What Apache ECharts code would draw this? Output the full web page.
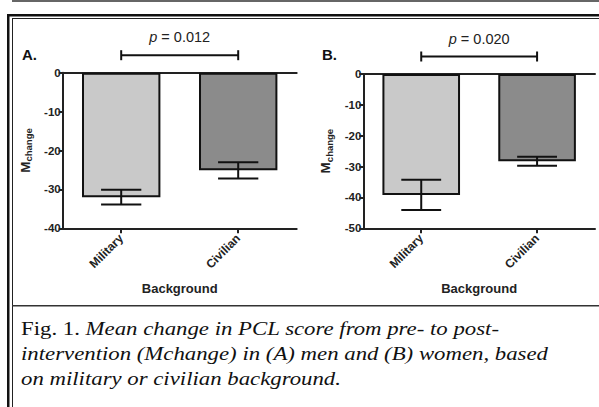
<!DOCTYPE html>
<html>
<head>
<meta charset="utf-8">
<script src="https://cdn.jsdelivr.net/npm/echarts@6/dist/echarts.min.js"></script>
<style>
html,body{margin:0;padding:0;background:#fff;}
#c{width:599px;height:407px;}
</style>
</head>
<body>
<div id="c"></div>
<script>
// ---- data ----
const categories = ['Military', 'Civilian'];
const menMean = [-32.0, -25.1];
const menSE = [1.9, 2.1];
const womenMean = [-39.2, -28.3];
const womenSE = [4.9, 1.45];
const pValues = ['0.012', '0.020'];
const panelLabels = ['A.', 'B.'];
const yMinA = -40, yMinB = -50, yMax = 0, yStep = 10;
const captionLines = [
  ['Fig. 1. ', 'Mean change in PCL score from pre- to post-'],
  ['', 'intervention (Mchange) in (A) men and (B) women, based'],
  ['', 'on military or civilian background.']
];

const sans = 'Liberation Sans, Arial, sans-serif';
const serif = 'Liberation Serif, Times New Roman, serif';
const barColors = ['#c9c9c9', '#8b8b8b'];

const chart = echarts.init(document.getElementById('c'), null, {renderer: 'svg'});

function errData(mean, se) {
  return mean.map((m, i) => [i, m - se[i], m + se[i]]);
}

function yAxisDef(gridIndex, min) {
  return {
    type: 'value', gridIndex, min, max: yMax, interval: yStep,
    axisLine: {show: true, lineStyle: {color: '#222', width: 2}},
    axisTick: {show: true, length: 4, lineStyle: {color: '#222', width: 2}},
    axisLabel: {color: '#222', fontWeight: 'bold', fontSize: 11.5, fontFamily: sans, margin: 2},
    splitLine: {show: false},
    name: '{m|M}{s|change}',
    nameLocation: 'middle', nameGap: 29, nameRotate: 90,
    nameTextStyle: {
      rich: {
        m: {fontSize: 13.5, fontWeight: 'bold', fontFamily: sans, color: '#222'},
        s: {fontSize: 9.5, fontWeight: 'bold', fontFamily: sans, color: '#222', padding: [7, 0, 0, 0]}
      }
    }
  };
}

function xAxisDef(gridIndex) {
  return {
    type: 'category', gridIndex, data: categories, position: 'bottom',
    axisLine: {show: true, onZero: false, lineStyle: {color: '#222', width: 2}},
    axisTick: {show: true, alignWithLabel: true, length: 5, lineStyle: {color: '#222', width: 2}},
    axisLabel: {color: '#222', fontWeight: 'bold', fontSize: 12, fontFamily: sans, rotate: 45, margin: 8},
    name: 'Background', nameLocation: 'middle', nameGap: 54,
    nameTextStyle: {color: '#222', fontWeight: 'bold', fontSize: 13, fontFamily: sans}
  };
}

function topAxisDef(gridIndex) {
  return {
    type: 'category', gridIndex, data: categories, position: 'top',
    axisLine: {show: true, onZero: false, lineStyle: {color: '#222', width: 2}},
    axisTick: {show: false}, axisLabel: {show: false}
  };
}

function barSeries(idx, mean) {
  return {
    type: 'bar', xAxisIndex: idx * 2, yAxisIndex: idx, barWidth: '67%',
    data: mean.map((v, i) => ({value: v, itemStyle: {color: barColors[i]}})),
    itemStyle: {borderColor: '#111', borderWidth: 2},
    silent: true, z: 2
  };
}

function errSeries(idx, mean, se) {
  return {
    type: 'custom', xAxisIndex: idx * 2, yAxisIndex: idx, z: 5, silent: true,
    data: errData(mean, se),
    renderItem(params, api) {
      const x = api.value(0);
      const lo = api.coord([x, api.value(1)]);
      const hi = api.coord([x, api.value(2)]);
      const hw = api.size([1, 0])[0] * 0.172;
      const st = {stroke: '#111', lineWidth: 2};
      return {type: 'group', children: [
        {type: 'line', shape: {x1: lo[0], y1: lo[1], x2: hi[0], y2: hi[1]}, style: st},
        {type: 'line', shape: {x1: lo[0] - hw, y1: lo[1], x2: lo[0] + hw, y2: lo[1]}, style: st},
        {type: 'line', shape: {x1: hi[0] - hw, y1: hi[1], x2: hi[0] + hw, y2: hi[1]}, style: st}
      ]};
    }
  };
}

function bracketSeries(idx, pv) {
  return {
    type: 'custom', xAxisIndex: idx * 2, yAxisIndex: idx, z: 5, silent: true, clip: false,
    data: [[0, 1]],
    renderItem(params, api) {
      const a = api.coord([api.value(0), 0]);
      const b = api.coord([api.value(1), 0]);
      const y = a[1] - 17.5;
      const st = {stroke: '#111', lineWidth: 2};
      return {type: 'group', children: [
        {type: 'line', shape: {x1: a[0], y1: y, x2: b[0], y2: y}, style: st},
        {type: 'line', shape: {x1: a[0], y1: y - 5, x2: a[0], y2: y + 5}, style: st},
        {type: 'line', shape: {x1: b[0], y1: y - 5, x2: b[0], y2: y + 5}, style: st},
        {type: 'text', x: (a[0] + b[0]) / 2, y: y - 18, style: {
          text: '{i|p} = ' + pv, x: 0, y: 0, align: 'center', verticalAlign: 'middle',
          fill: '#222', font: '14.5px ' + sans,
          rich: {i: {fontStyle: 'italic', fontSize: 14.5, fontFamily: sans, fill: '#222'}}
        }}
      ]};
    }
  };
}

const graphics = [
  // top gray rule
  {type: 'rect', shape: {x: 12, y: 0, width: 600, height: 2}, style: {fill: '#666'}, silent: true},
  // outer thick frame
  {type: 'rect', shape: {x: 7, y: 14, width: 600, height: 2.5}, style: {fill: '#111'}, silent: true},
  {type: 'rect', shape: {x: 7, y: 14, width: 2.5, height: 400}, style: {fill: '#111'}, silent: true},
  // inner thin frame
  {type: 'rect', shape: {x: 12, y: 18, width: 600, height: 1}, style: {fill: '#222'}, silent: true},
  {type: 'rect', shape: {x: 12, y: 18, width: 1, height: 400}, style: {fill: '#222'}, silent: true},
  // separator above caption
  {type: 'rect', shape: {x: 12, y: 305, width: 600, height: 1.5}, style: {fill: '#333'}, silent: true},
  // panel labels
  {type: 'text', x: 22, y: 47, style: {text: panelLabels[0], font: 'bold 15px ' + sans, fill: '#111'}, silent: true},
  {type: 'text', x: 322, y: 47, style: {text: panelLabels[1], font: 'bold 15px ' + sans, fill: '#111'}, silent: true}
];
captionLines.forEach((ln, i) => {
  graphics.push({
    type: 'text', x: 21, y: 319 + i * 25.3, scaleX: 1.2, silent: true,
    style: {
      text: (ln[0] ? '{r|' + ln[0] + '}' : '') + '{it|' + ln[1] + '}',
      rich: {
        r: {fontFamily: serif, fontSize: 19, fill: '#111'},
        it: {fontFamily: serif, fontSize: 19, fontStyle: 'italic', fill: '#111'}
      }
    }
  });
});

chart.setOption({
  backgroundColor: '#fff',
  animation: false,
  grid: [
    {left: 62.7, top: 72.7, width: 234, height: 155.6, containLabel: false},
    {left: 363.3, top: 74, width: 231.7, height: 154.3, containLabel: false}
  ],
  xAxis: [xAxisDef(0), topAxisDef(0), xAxisDef(1), topAxisDef(1)],
  yAxis: [yAxisDef(0, yMinA), yAxisDef(1, yMinB)],
  series: [
    barSeries(0, menMean), errSeries(0, menMean, menSE), bracketSeries(0, pValues[0]),
    barSeries(1, womenMean), errSeries(1, womenMean, womenSE), bracketSeries(1, pValues[1])
  ],
  graphic: graphics
});
</script>
</body>
</html>
